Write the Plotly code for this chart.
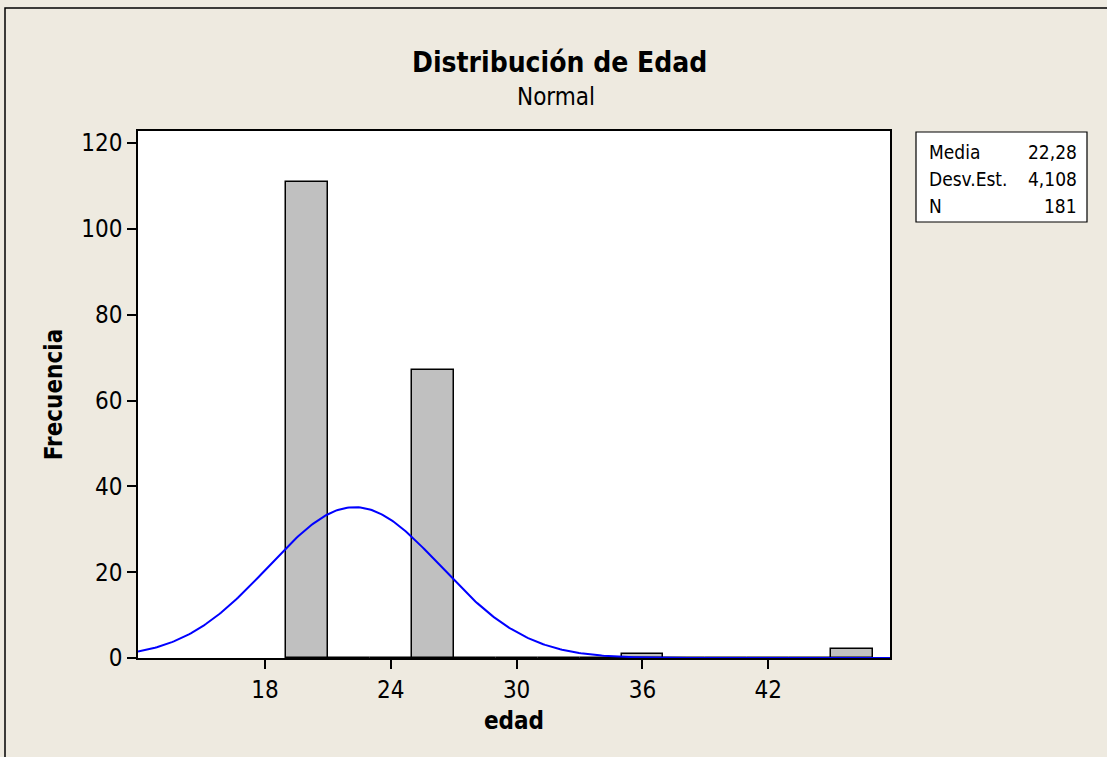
import numpy as np
import plotly.graph_objects as go

# ---- data ----
bin_centers = [20, 22, 24, 26, 28, 30, 32, 34, 36, 38, 40, 42, 44, 46]
counts = [111, 0, 0, 67, 0, 0, 0, 0, 1, 0, 0, 0, 0, 2]
bin_width = 2
media = 22.28
desv_est = 4.108
n_obs = 181
x_ticks = [18, 24, 30, 36, 42]
y_ticks = [0, 20, 40, 60, 80, 100, 120]
stat_labels = ["Media", "Desv.Est.", "N"]
stat_values = ["22,28", "4,108", "181"]

FONT = "DejaVu Sans Condensed"
BG = "#EEEAE0"

# fitted normal curve (from displayed Media / Desv.Est. / N)
xs = np.linspace(11.95, 47.8, 400)
ys = n_obs * bin_width / (desv_est * np.sqrt(2 * np.pi)) * np.exp(-0.5 * ((xs - media) / desv_est) ** 2)

fig = go.Figure()
fig.add_trace(go.Bar(
    x=bin_centers, y=counts, width=bin_width,
    marker=dict(color="#C0C0C0", line=dict(color="black", width=1.5)),
    showlegend=False, hoverinfo="x+y",
))
fig.add_trace(go.Scatter(
    x=xs, y=ys, mode="lines", line=dict(color="#0000FF", width=2),
    showlegend=False,
))

L, R, T, B = 138, 890, 131, 658
W, H = 1107, 757
pw, ph = R - L, B - T
def px(x):
    return (x - L) / pw
def py(y):
    return (B - y) / ph

shapes = [
    dict(type="rect", xref="paper", yref="paper",
         x0=px(5), x1=px(W + 20), y0=py(H + 20), y1=py(8),
         line=dict(color="black", width=1.5), fillcolor="rgba(0,0,0,0)", layer="below"),
    dict(type="rect", xref="paper", yref="paper",
         x0=px(916), x1=px(1087), y0=py(222), y1=py(132),
         line=dict(color="black", width=1.2), fillcolor="white"),
]

annotations = [
    dict(text="<b>Distribución de Edad</b>", xref="paper", yref="paper",
         x=px(559), y=py(62), showarrow=False, font=dict(family=FONT, size=28, color="black"),
         xanchor="center", yanchor="middle"),
    dict(text="Normal", xref="paper", yref="paper",
         x=px(556), y=py(97), showarrow=False, font=dict(family=FONT, size=24, color="black"),
         xanchor="center", yanchor="middle"),
]
for i, (lab, val) in enumerate(zip(stat_labels, stat_values)):
    yy = 152 + i * 27
    annotations.append(dict(text=lab, xref="paper", yref="paper", x=px(927), y=py(yy),
                            showarrow=False, xanchor="left", yanchor="middle",
                            font=dict(family=FONT, size=19, color="black")))
    annotations.append(dict(text=val, xref="paper", yref="paper", x=px(1079), y=py(yy),
                            showarrow=False, xanchor="right", yanchor="middle",
                            font=dict(family=FONT, size=19, color="black")))

fig.update_layout(
    width=W, height=H,
    margin=dict(l=L, r=W - R, t=T, b=H - B, pad=0),
    paper_bgcolor=BG, plot_bgcolor="white",
    bargap=0,
    shapes=shapes, annotations=annotations,
    font=dict(family=FONT, color="black"),
    xaxis=dict(
        range=[11.95, 47.8], tickvals=x_ticks, ticktext=[str(v) for v in x_ticks],
        ticks="outside", ticklen=9, tickwidth=1.5, tickcolor="black",
        showline=True, linecolor="black", linewidth=1.5, mirror=True,
        showgrid=False, zeroline=False,
        tickfont=dict(family=FONT, size=24),
        title=dict(text="<b>edad</b>", font=dict(family=FONT, size=24), standoff=10),
    ),
    yaxis=dict(
        range=[0, 122.8], tickvals=y_ticks,
        ticks="outside", ticklen=9, tickwidth=1.5, tickcolor="black",
        showline=True, linecolor="black", linewidth=1.5, mirror=True,
        showgrid=False, zeroline=False,
        tickfont=dict(family=FONT, size=24),
        title=dict(text="<b>Frecuencia</b>", font=dict(family=FONT, size=24), standoff=12),
    ),
)

fig.write_html("out.html", config={"displayModeBar": False},
               post_script="document.body.style.margin='0';document.body.style.background='%s';" % BG)
